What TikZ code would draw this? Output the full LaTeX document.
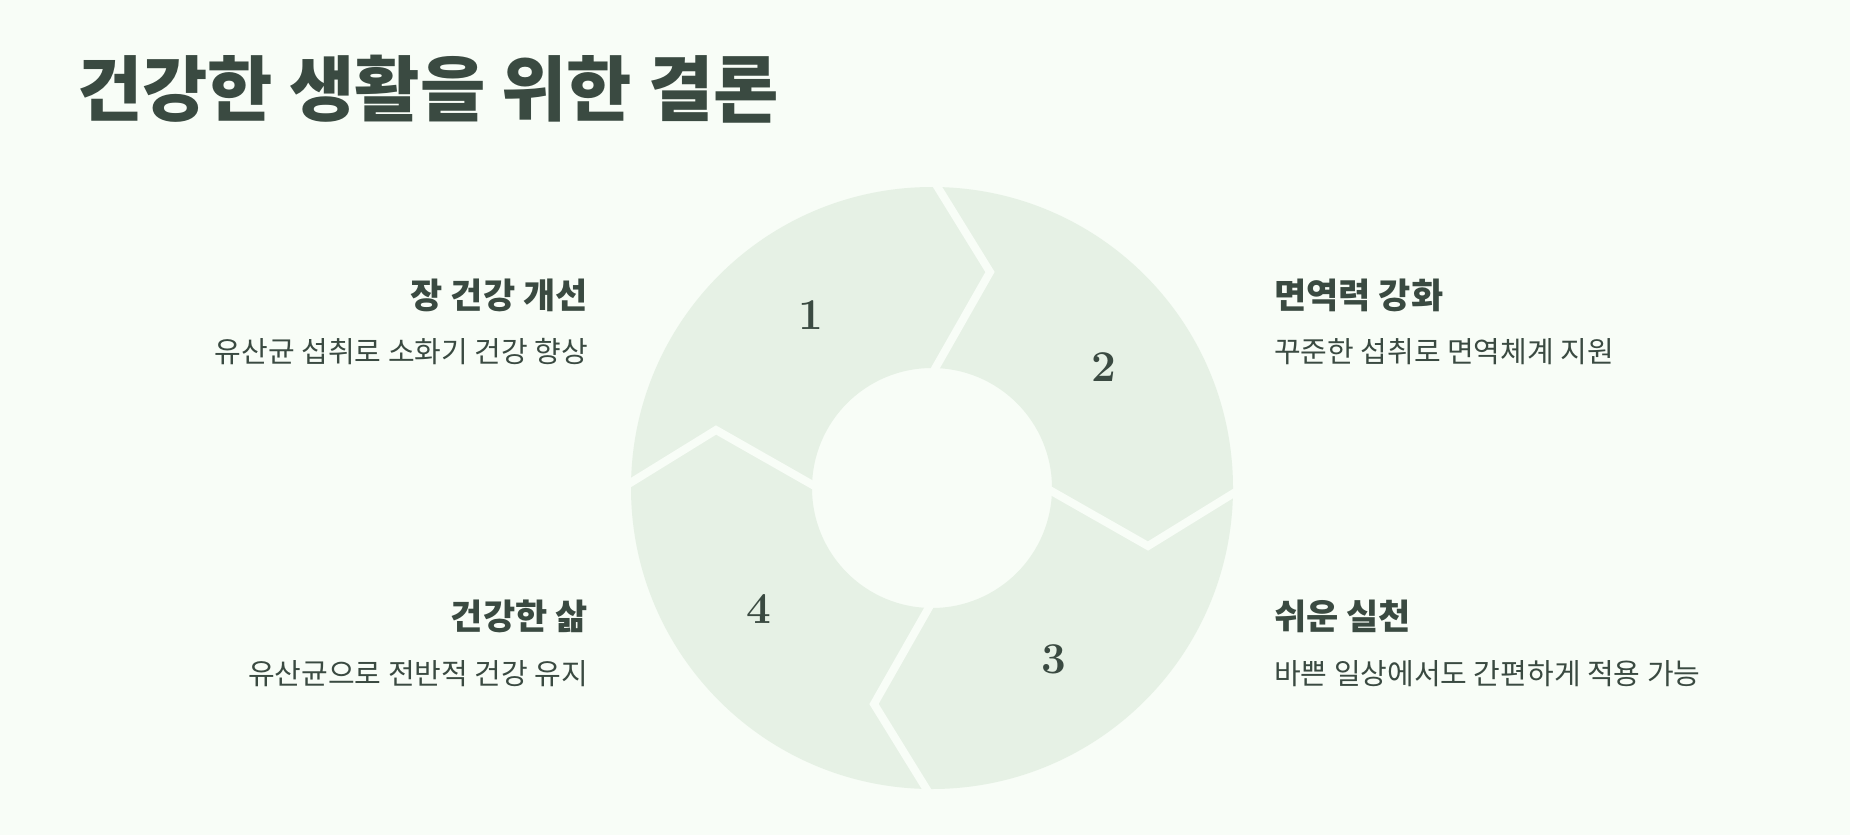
\documentclass[tikz,border=0pt]{standalone}
\usepackage{fontspec}
\usetikzlibrary{calc}
\newfontfamily\kr{Noto Sans CJK KR}
\definecolor{bg}{HTML}{F8FDF7}
\definecolor{seg}{HTML}{E6F1E5}
\definecolor{ink}{HTML}{3A4A41}
\begin{document}
\begin{tikzpicture}[x=1pt,y=-1pt,
  head/.style={font=\kr\bfseries\fontsize{35}{40}\selectfont,text=ink,inner sep=0},
  body/.style={font=\kr\fontsize{29}{34}\selectfont,text=ink,inner sep=0},
  num/.style={font=\bfseries\fontsize{44}{46}\selectfont,text=ink},
  cut/.style={draw=bg,line width=8pt,line join=miter}]
\fill[bg] (0,0) rectangle (1850,835);
\useasboundingbox (0,0) rectangle (1850,835);
\coordinate (c) at (932,488);
\fill[seg,even odd rule] (c) circle (301) (c) circle (120);
\draw[cut] ($(c)+(0,-310)$) -- ($(c)+(58,-216)$) -- ($(c)+(0,-114)$);
\draw[cut] ($(c)+(310,0)$) -- ($(c)+(216,58)$) -- ($(c)+(114,0)$);
\draw[cut] ($(c)+(0,310)$) -- ($(c)+(-58,216)$) -- ($(c)+(0,114)$);
\draw[cut] ($(c)+(-310,0)$) -- ($(c)+(-216,-58)$) -- ($(c)+(-114,0)$);
\node[num] (n1) at (811,315) {1};
\node[num] (n2) at (1104,367) {2};
\node[num] (n3) at (1054,659) {3};
\node[num] (n4) at (759,609) {4};
\node[anchor=base west,inner sep=0,font=\kr\bfseries\fontsize{71}{80}\selectfont,text=ink] (t) at (77,115) {건강한 생활을 위한 결론};
\node[head,anchor=east] (h1) at (588,295) {장 건강 개선};
\node[body,anchor=east] (b1) at (588,352) {유산균 섭취로 소화기 건강 향상};
\node[head,anchor=west] (h2) at (1274,295) {면역력 강화};
\node[body,anchor=west] (b2) at (1274,352) {꾸준한 섭취로 면역체계 지원};
\node[head,anchor=east] (h4) at (588,616) {건강한 삶};
\node[body,anchor=east] (b4) at (588,674) {유산균으로 전반적 건강 유지};
\node[head,anchor=west] (h3) at (1274,616) {쉬운 실천};
\node[body,anchor=west] (b3) at (1274,674) {바쁜 일상에서도 간편하게 적용 가능};
\end{tikzpicture}
\end{document}
